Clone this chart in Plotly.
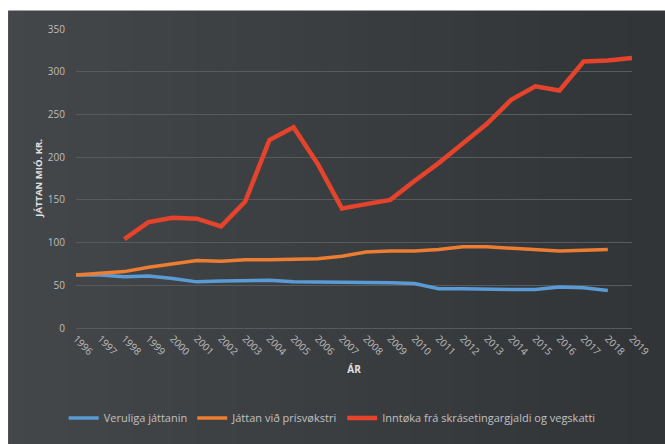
import plotly.graph_objects as go

years = [str(y) for y in range(1996, 2020)]

veruliga = [62, 62, 60, 61, 58, 54, 55, 55, 56, 54, 54, 54, 54, 53, 52, 46, 46, 45, 45, 45, 48, 47, 44, None]
prisvokstur = [62, 64, 66, 71, 75, 79, 78, 80, 80, 81, 81, 84, 89, 90, 90, 92, 95, 95, 93, 91, 90, 91, 92, None]
inntoka = [None, None, 104, 124, 129, 128, 119, 148, 220, 235, 192, 140, 145, 150, 172, 193, 216, 239, 267, 283, 278, 312, 313, 316]

names = ["Veruliga játtanin", "Játtan við prísvøkstri", "Inntøka frá skrásetingargjaldi og vegskatti"]
colors = ["#5b9bd5", "#ed7d31", "#e5432b"]
widths = [3.5, 3.5, 4.5]

fig = go.Figure()
for vals, name, col, w in zip([veruliga, prisvokstur, inntoka], names, colors, widths):
    fig.add_trace(go.Scatter(x=years, y=vals, mode="lines", name=name,
                             line=dict(color=col, width=w)))

W, H = 665, 444
ml, mr, mt, mb = 76, 16, 29, 109
pw, ph = W - ml - mr, H - mt - mb

def px2x(p):
    return (p - ml) / pw

def py2y(p):
    return (H - mb - p) / ph

# subtle horizontal background gradient (lighter left, darker right)
shapes = []
N = 30
c0, c1 = (0x44, 0x47, 0x4a), (0x32, 0x35, 0x38)
for i in range(N):
    t = i / (N - 1)
    c = tuple(round(a + (b - a) * t) for a, b in zip(c0, c1))
    left = -60 if i == 0 else W * i / N
    right = W + 60 if i == N - 1 else W * (i + 1) / N + 1
    shapes.append(dict(type="rect", xref="paper", yref="paper",
                       x0=px2x(left), x1=px2x(right),
                       y0=py2y(H + 60), y1=py2y(-60),
                       fillcolor="rgb(%d,%d,%d)" % c, line=dict(width=0), layer="below"))

shapes += [
    dict(type="rect", xref="paper", yref="paper", x0=px2x(-60), x1=px2x(6), y0=py2y(H + 60), y1=py2y(-60),
         fillcolor="white", line=dict(width=0), layer="above"),
    dict(type="rect", xref="paper", yref="paper", x0=px2x(-60), x1=px2x(W + 60), y0=py2y(10), y1=py2y(-60),
         fillcolor="white", line=dict(width=0), layer="above"),
]

fig.update_layout(
    width=W, height=H,
    margin=dict(l=ml, r=mr, t=mt, b=mb),
    paper_bgcolor="#3b3e41",
    plot_bgcolor="rgba(0,0,0,0)",
    font=dict(family="Open Sans", color="#c0c0c0", size=10),
    showlegend=True,
    legend=dict(orientation="h", x=px2x(340), xanchor="center", y=py2y(442), yanchor="bottom",
                font=dict(size=11, color="#c0c0c0"), itemwidth=30, bgcolor="rgba(0,0,0,0)"),
    xaxis=dict(type="category", tickangle=45, showgrid=False, showline=True,
               linecolor="#575b5e", linewidth=1, ticks="",
               tickfont=dict(size=10, color="#bdbdbd"),
               title=dict(text="<b>ÁR</b>", font=dict(size=10, color="#e0e0e0"), standoff=8)),
    yaxis=dict(range=[0, 350], dtick=50, showgrid=True, gridcolor="#575b5e", gridwidth=1,
               zeroline=False, ticks="", tickfont=dict(size=10, color="#bdbdbd"),
               ticklabelstandoff=10),
    annotations=[dict(text="<b>JÁTTAN MIÓ. KR.</b>", textangle=-90, xref="paper", yref="paper",
                      x=px2x(37), y=0.5, xanchor="center", yanchor="middle", showarrow=False,
                      font=dict(size=9.5, color="#e0e0e0"))],
    shapes=shapes,
)

fig.write_html("out.html", config={"displayModeBar": False},
               post_script="document.body.style.margin='0';document.body.style.overflow='hidden';")
